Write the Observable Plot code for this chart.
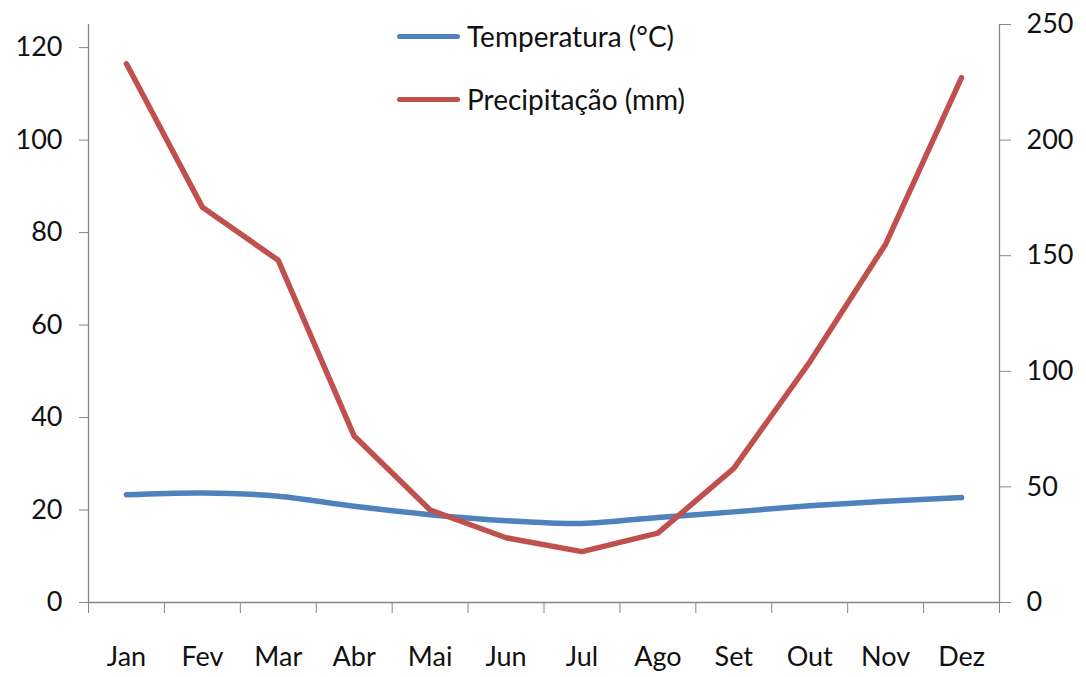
<!DOCTYPE html>
<html>
<head>
<meta charset="utf-8">
<script src="https://cdn.jsdelivr.net/npm/d3@7"></script>
<script src="https://cdn.jsdelivr.net/npm/@observablehq/plot@0.6"></script>
<style>
  body { margin: 0; background: #fff; font-family: Lato, "Open Sans", sans-serif; }
  #chart { position: relative; width: 1086px; height: 677px; }
  .legend { position: absolute; left: 397px; top: 19px; font-size: 28px; color: #111; }
  .legend .item { display: flex; align-items: center; height: 34px; margin-bottom: 29px; }
  .legend .swatch { width: 63px; height: 5px; border-radius: 3px; margin-right: 7px; }
</style>
</head>
<body>
<div id="chart"></div>
<script>
// Monthly climate normals
const months = ["Jan", "Fev", "Mar", "Abr", "Mai", "Jun", "Jul", "Ago", "Set", "Out", "Nov", "Dez"];
const temperatura = [23.3, 23.7, 23.0, 20.8, 19.0, 17.7, 17.1, 18.4, 19.6, 20.9, 21.9, 22.7];
const precipitacao = [233, 171, 148, 72, 40, 28, 22, 30, 58, 104, 155, 227];
const leftTicks = [0, 20, 40, 60, 80, 100, 120];
const rightTicks = [0, 50, 100, 150, 200, 250];

const seriesNames = ["Temperatura (°C)", "Precipitação (mm)"];
const colors = ["#4F81BD", "#C0504D"];

// Left axis spans 0–125, right axis 0–250: precipitation is drawn at half scale
const ratio = 250 / 125;

const tempData = months.map((m, i) => ({ i: i + 0.5, v: temperatura[i] }));
const precData = months.map((m, i) => ({ i: i + 0.5, v: precipitacao[i] / ratio }));
const monthTicks = months.map((m, i) => i + 0.5);

const axisColor = "#868686";

const chart = Plot.plot({
  width: 1086,
  height: 677,
  marginLeft: 88,
  marginRight: 87,
  marginTop: 24,
  marginBottom: 75,
  style: { fontFamily: "Lato, 'Open Sans', sans-serif", fontSize: "27px", color: "#111", background: "#fff" },
  x: { type: "linear", domain: [0, 12] },
  y: { domain: [0, 125] },
  marks: [
    // axis lines
    Plot.ruleX([0, 12], { stroke: axisColor, strokeWidth: 1.3 }),
    Plot.ruleY([0], { stroke: axisColor, strokeWidth: 1.3 }),
    // left axis (temperature)
    Plot.axisY({ ticks: leftTicks, anchor: "left", tickSize: 9, tickPadding: 17, stroke: axisColor, fill: "#111", label: null }),
    // right axis (precipitation)
    Plot.axisY({
      ticks: rightTicks.map(d => d / ratio), anchor: "right", tickSize: 11, tickPadding: 16,
      tickFormat: d => String(Math.round(d * ratio)), stroke: axisColor, fill: "#111", label: null
    }),
    // category boundaries
    Plot.axisX({ ticks: d3.range(0, 13), tickSize: 11, tickFormat: () => "", stroke: axisColor, label: null }),
    // month names
    Plot.axisX({ ticks: monthTicks, tickSize: 0, tickPadding: 44, tickFormat: d => months[Math.floor(d)], fill: "#111", label: null }),
    // series
    Plot.line(tempData, { x: "i", y: "v", stroke: colors[0], strokeWidth: 5.5, curve: "catmull-rom", strokeLinecap: "round", strokeLinejoin: "round" }),
    Plot.line(precData, { x: "i", y: "v", stroke: colors[1], strokeWidth: 5.5, strokeLinecap: "round", strokeLinejoin: "round" })
  ]
});

const container = document.getElementById("chart");
container.appendChild(chart);

// legend overlaid in the upper middle of the plot area
const legend = document.createElement("div");
legend.className = "legend";
seriesNames.forEach((name, k) => {
  const item = document.createElement("div");
  item.className = "item";
  const sw = document.createElement("span");
  sw.className = "swatch";
  sw.style.background = colors[k];
  const label = document.createElement("span");
  label.textContent = name;
  item.appendChild(sw);
  item.appendChild(label);
  legend.appendChild(item);
});
container.appendChild(legend);
</script>
</body>
</html>
